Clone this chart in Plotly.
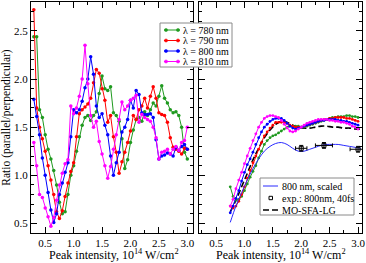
import plotly.graph_objects as go

# ---------------- data ----------------
intensity = [0.30, 0.35, 0.40, 0.45, 0.50, 0.55, 0.60, 0.65, 0.70, 0.75,
             0.80, 0.85, 0.90, 0.95, 1.00, 1.05, 1.10, 1.15, 1.20, 1.25,
             1.30, 1.35, 1.40, 1.45, 1.50, 1.55, 1.60, 1.65, 1.70, 1.75,
             1.80, 1.85, 1.90, 1.95, 2.00, 2.05, 2.10, 2.15, 2.20, 2.25,
             2.30, 2.35, 2.40, 2.45, 2.50, 2.55, 2.60, 2.65, 2.70, 2.75,
             2.80, 2.85, 2.90, 2.95, 3.00]

ratio_780 = [2.44, 2.44, 1.68, 1.60, 1.42, 1.27, 1.17, 1.05, 0.90, 0.72,
             0.60, 0.62, 0.80, 1.00, 1.10, 1.25, 1.40, 1.52, 1.60, 1.62,
             1.57, 1.62, 1.66, 1.85, 2.03, 1.90, 1.88, 1.92, 1.65, 1.62,
             1.56, 1.38, 1.07, 1.16, 1.34, 1.47, 1.58, 1.60, 1.56, 1.66,
             1.62, 1.68, 1.75, 1.72, 1.82, 1.93, 1.80, 1.75, 1.68, 1.65,
             1.66, 1.62, 1.50, 1.24, 1.17]

ratio_790 = [2.72, 1.70, 1.50, 1.38, 1.25, 1.10, 0.95, 0.80, 0.62, 0.55,
             0.63, 0.78, 0.92, 1.04, 1.13, 1.40, 1.64, 1.68, 1.71, 1.74,
             1.80, 1.96, 2.10, 2.06, 1.90, 1.78, 1.55, 1.62, 1.40, 1.24,
             1.02, 1.14, 1.24, 1.34, 1.46, 1.62, 1.58, 1.68, 1.72, 1.80,
             1.70, 1.82, 1.92, 1.80, 1.65, 1.63, 1.62, 1.55, 1.39, 1.29,
             1.27, 1.25, 1.22, 1.28, 1.27]

ratio_800 = [1.79, 1.61, 1.42, 1.18, 1.00, 0.82, 0.64, 0.51, 0.60, 0.80,
             0.92, 1.03, 1.13, 1.40, 1.68, 1.65, 1.68, 1.77, 1.91, 2.00,
             2.23, 2.05, 1.72, 1.60, 1.64, 1.52, 1.42, 1.20, 1.00, 1.13,
             1.24, 1.45, 1.50, 1.58, 1.78, 1.70, 1.88, 1.84, 1.65, 1.63,
             1.63, 1.64, 1.60, 1.37, 1.17, 1.20, 1.21, 1.23, 1.22, 1.20,
             1.29, 1.26, 1.30, 1.32, 1.27]

ratio_810 = [1.34, 1.10, 0.80, 0.77, 0.66, 0.57, 0.47, 0.56, 0.74, 0.90,
             1.02, 1.12, 1.16, 1.72, 1.64, 1.70, 1.82, 2.00, 2.35, 1.95,
             1.62, 1.50, 1.56, 1.35, 1.22, 1.10, 0.97, 1.09, 1.27, 1.42,
             1.58, 1.76, 1.68, 1.72, 1.78, 1.80, 1.83, 1.55, 1.63, 1.60,
             1.58, 1.56, 1.50, 1.39, 1.17, 1.24, 1.25, 1.27, 1.22, 1.27,
             1.30, 1.26, 1.34, 1.36, 1.50]

intensity_fit = [0.75, 0.80, 0.85, 0.90, 0.95, 1.00, 1.05, 1.10, 1.15, 1.20,
                 1.25, 1.30, 1.35, 1.40, 1.45, 1.50, 1.55, 1.60, 1.65, 1.70,
                 1.75, 1.80, 1.85, 1.90, 1.95, 2.00, 2.05, 2.10, 2.15, 2.20,
                 2.25, 2.30, 2.35, 2.40, 2.45, 2.50, 2.55, 2.60, 2.65, 2.70,
                 2.75, 2.80, 2.85, 2.90, 2.95, 3.00]

fit_780 = [0.88, 0.78, 0.74, 0.75, 0.78, 0.84, 0.91, 0.98, 1.04, 1.10,
           1.18, 1.25, 1.32, 1.36, 1.39, 1.41, 1.42, 1.44, 1.46, 1.48,
           1.50, 1.51, 1.51, 1.51, 1.51, 1.50, 1.50, 1.51, 1.52, 1.53,
           1.54, 1.55, 1.56, 1.57, 1.58, 1.59, 1.60, 1.60, 1.61, 1.61,
           1.61, 1.62, 1.62, 1.61, 1.61, 1.60]

fit_790 = [0.68, 0.66, 0.68, 0.73, 0.80, 0.88, 0.97, 1.05, 1.13, 1.20,
           1.27, 1.34, 1.41, 1.45, 1.49, 1.52, 1.55, 1.55, 1.55, 1.55,
           1.54, 1.52, 1.51, 1.50, 1.50, 1.50, 1.51, 1.52, 1.53, 1.54,
           1.55, 1.56, 1.57, 1.58, 1.58, 1.59, 1.59, 1.60, 1.60, 1.60,
           1.60, 1.59, 1.59, 1.58, 1.57, 1.56]

fit_800 = [0.61, 0.68, 0.76, 0.84, 0.94, 1.03, 1.11, 1.17, 1.24, 1.32,
           1.39, 1.45, 1.50, 1.53, 1.56, 1.58, 1.59, 1.59, 1.59, 1.57,
           1.54, 1.51, 1.49, 1.48, 1.49, 1.50, 1.51, 1.52, 1.53, 1.54,
           1.55, 1.56, 1.57, 1.57, 1.58, 1.58, 1.58, 1.58, 1.57, 1.57,
           1.56, 1.56, 1.55, 1.54, 1.53, 1.52]

fit_810 = [0.68, 0.75, 0.86, 0.95, 1.03, 1.12, 1.20, 1.28, 1.36, 1.43,
           1.50, 1.55, 1.59, 1.61, 1.62, 1.62, 1.61, 1.60, 1.57, 1.53,
           1.49, 1.46, 1.45, 1.46, 1.48, 1.50, 1.52, 1.54, 1.55, 1.56,
           1.57, 1.58, 1.58, 1.58, 1.58, 1.57, 1.57, 1.56, 1.56, 1.55,
           1.55, 1.54, 1.53, 1.51, 1.50, 1.48]

intensity_model = [0.75, 0.85, 0.95, 1.05, 1.15, 1.25, 1.35, 1.45, 1.55, 1.65,
                   1.75, 1.85, 1.95, 2.05, 2.15, 2.25, 2.35, 2.45, 2.55, 2.65,
                   2.75, 2.85, 2.95, 3.05]
scaled_800 = [0.51, 0.68, 0.82, 0.95, 1.07, 1.17, 1.25, 1.30, 1.33, 1.34,
              1.32, 1.28, 1.25, 1.25, 1.27, 1.29, 1.31, 1.32, 1.32, 1.32,
              1.31, 1.30, 1.29, 1.28]
mo_sfa_lg = [0.62, 0.74, 0.88, 1.02, 1.16, 1.28, 1.39, 1.47, 1.53, 1.56,
             1.55, 1.52, 1.50, 1.49, 1.49, 1.50, 1.51, 1.51, 1.50, 1.50,
             1.49, 1.49, 1.48, 1.48]

exp_intensity = [2.0, 2.4, 3.0]
exp_ratio = [1.28, 1.31, 1.27]
exp_x_err = [0.10, 0.15, 0.14]
exp_y_err = [0.03, 0.03, 0.03]

wavelength_labels = ["λ = 780 nm", "λ = 790 nm", "λ = 800 nm", "λ = 810 nm"]
right_labels = ["800 nm, scaled", "exp.: 800nm, 40fs", "MO-SFA-LG"]
x_title = "Peak intensity, 10<sup>14</sup> W/cm<sup>2</sup>"
y_title = "Ratio (parallel/perpendicular)"

# ---------------- styling ----------------
FONT = "Liberation Serif"
colors = ["#1f9a1f", "#ff0000", "#0000ff", "#ff00ff"]
left_series = [ratio_780, ratio_790, ratio_800, ratio_810]
right_series = [fit_780, fit_790, fit_800, fit_810]

fig = go.Figure()

for lab, col, ys in zip(wavelength_labels, colors, left_series):
    fig.add_trace(go.Scatter(x=intensity, y=ys, mode="lines+markers", name=lab,
                             line=dict(color=col, width=1),
                             marker=dict(color=col, size=3.5, symbol="circle"),
                             xaxis="x", yaxis="y", showlegend=False))

fig.add_trace(go.Scatter(x=intensity_model, y=mo_sfa_lg, mode="lines", name=right_labels[2],
                         line=dict(color="black", width=1.6, dash="6px,3px", shape="spline"),
                         xaxis="x2", yaxis="y2", showlegend=False))

for lab, col, ys in zip(wavelength_labels, colors, right_series):
    fig.add_trace(go.Scatter(x=intensity_fit, y=ys, mode="lines+markers", name=lab,
                             line=dict(color=col, width=1),
                             marker=dict(color=col, size=2.8, symbol="circle"),
                             xaxis="x2", yaxis="y2", showlegend=False))

fig.add_trace(go.Scatter(x=intensity_model, y=scaled_800, mode="lines", name=right_labels[0],
                         line=dict(color="#2a2aff", width=1, shape="spline"),
                         xaxis="x2", yaxis="y2", showlegend=False))

fig.add_trace(go.Scatter(x=exp_intensity, y=exp_ratio, mode="markers", name=right_labels[1],
                         marker=dict(color="black", size=4, symbol="square-open",
                                     line=dict(width=1, color="black")),
                         error_x=dict(type="data", array=exp_x_err, color="black", thickness=1, width=2),
                         error_y=dict(type="data", array=exp_y_err, color="black", thickness=1, width=2),
                         xaxis="x2", yaxis="y2", showlegend=False))

axis_common = dict(showline=True, linecolor="black", linewidth=1.3, mirror="allticks",
                   ticks="inside", ticklen=6, tickwidth=1.1, tickcolor="black",
                   showgrid=False, zeroline=False, tickformat=".1f",
                   tickfont=dict(family=FONT, size=11, color="black"))

fig.update_layout(
    width=366, height=263,
    margin=dict(l=31, r=4, t=2, b=30),
    paper_bgcolor="white", plot_bgcolor="white",
    font=dict(family=FONT, size=11, color="black"),
    xaxis=dict(domain=[0, 0.4894], range=[0.25, 3.1], dtick=0.5, tick0=0,
               minor=dict(dtick=0.25, ticklen=3, ticks="inside", tickcolor="black"),
               anchor="y", automargin=False, **axis_common),
    yaxis=dict(domain=[0, 1], range=[0.4, 2.8], dtick=0.5, tick0=0,
               minor=dict(dtick=0.1, ticklen=3, ticks="inside", tickcolor="black"),
               title=dict(text=y_title, font=dict(family=FONT, size=11.5), standoff=3),
               anchor="x", automargin=False, **axis_common),
    xaxis2=dict(domain=[0.5076, 1], range=[0.2, 3.07], dtick=0.5, tick0=0,
                minor=dict(dtick=0.25, ticklen=3, ticks="inside", tickcolor="black"),
                anchor="y2", automargin=False, **axis_common),
    yaxis2=dict(domain=[0, 1], range=[0.4, 2.8], dtick=0.5, tick0=0, showticklabels=False,
                minor=dict(dtick=0.1, ticklen=3, ticks="inside", tickcolor="black"),
                anchor="x2", automargin=False, **axis_common),
)

# ---------------- titles & hand-built legend boxes (paper coordinates) ----------------
W, H, L, T = 331.0, 231.0, 31.0, 2.0
def px(x):
    return (x - L) / W
def py(y):
    return (T + H - y) / H

shapes = []
annotations = []

for cx in (114, 281):
    annotations.append(dict(text=x_title, xref="paper", yref="paper", x=px(cx), y=py(263),
                            xanchor="center", yanchor="bottom", showarrow=False, borderpad=0,
                            font=dict(family=FONT, size=12, color="black")))

LEG_FS = 10
# left legend
shapes.append(dict(type="rect", xref="paper", yref="paper",
                   x0=px(160), x1=px(232), y0=py(67), y1=py(23),
                   line=dict(color="#8a8a8a", width=1), fillcolor="white", layer="above"))
for lab, col, row in zip(wavelength_labels, colors, [30, 40.5, 51, 61.5]):
    shapes.append(dict(type="line", xref="paper", yref="paper",
                       x0=px(164), x1=px(180), y0=py(row), y1=py(row),
                       line=dict(color=col, width=1), layer="above"))
    for cx in (166, 178):
        shapes.append(dict(type="circle", xref="paper", yref="paper",
                           x0=px(cx - 1.6), x1=px(cx + 1.6), y0=py(row + 1.6), y1=py(row - 1.6),
                           line=dict(color=col, width=0.5), fillcolor=col, layer="above"))
    annotations.append(dict(text=lab, xref="paper", yref="paper", x=px(181), y=py(row),
                            xanchor="left", yanchor="middle", showarrow=False,
                            font=dict(family=FONT, size=LEG_FS, color="black")))

# right legend
shapes.append(dict(type="rect", xref="paper", yref="paper",
                   x0=px(260), x1=px(354), y0=py(215), y1=py(178),
                   line=dict(color="#8a8a8a", width=1), fillcolor="white", layer="above"))
rows_r = [186, 198, 210]
shapes.append(dict(type="line", xref="paper", yref="paper",
                   x0=px(263), x1=px(278), y0=py(rows_r[0]), y1=py(rows_r[0]),
                   line=dict(color="#2a2aff", width=1), layer="above"))
shapes.append(dict(type="rect", xref="paper", yref="paper",
                   x0=px(269), x1=px(272.5), y0=py(rows_r[1] + 1.7), y1=py(rows_r[1] - 1.7),
                   line=dict(color="black", width=1), fillcolor="white", layer="above"))
shapes.append(dict(type="line", xref="paper", yref="paper",
                   x0=px(263), x1=px(278), y0=py(rows_r[2]), y1=py(rows_r[2]),
                   line=dict(color="black", width=1.6, dash="6px,3px"), layer="above"))
for lab, row in zip(right_labels, rows_r):
    annotations.append(dict(text=lab, xref="paper", yref="paper", x=px(280), y=py(row),
                            xanchor="left", yanchor="middle", showarrow=False,
                            font=dict(family=FONT, size=LEG_FS, color="black")))

fig.update_layout(shapes=shapes, annotations=annotations)

# the page's default body margin would push the fixed-size figure off the window
fig.write_html("out.html", config={"displayModeBar": False},
               post_script="document.body.style.margin='0';")
